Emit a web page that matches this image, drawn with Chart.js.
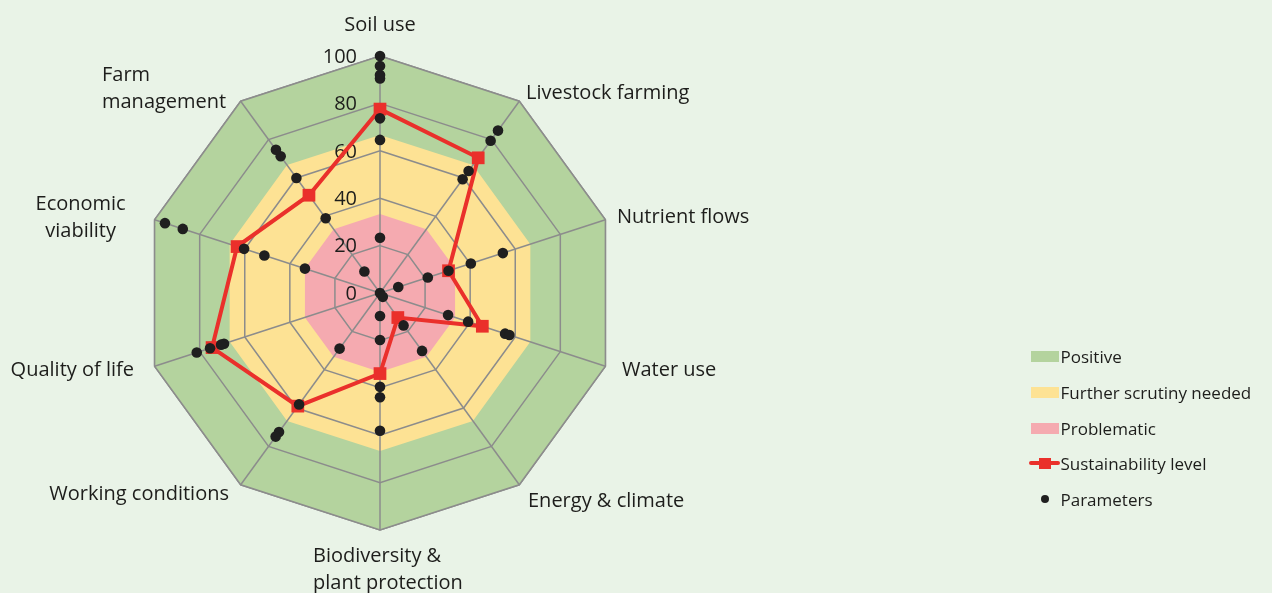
<!DOCTYPE html>
<html>
<head>
<meta charset="utf-8">
<script src="https://cdn.jsdelivr.net/npm/chart.js@4.4.1/dist/chart.umd.min.js"></script>
<style>
  html, body { margin: 0; padding: 0; background: #e9f3e7; }
  body { width: 1272px; height: 593px; position: relative; overflow: hidden; font-family: "Open Sans", sans-serif; }
  #c { position: absolute; left: 0; top: 0; }
  #legend { position: absolute; left: 1031px; top: 339.2px; }
  .row { height: 35.6px; display: flex; align-items: center; font-size: 17px; color: #1d1d1b; white-space: nowrap; }
  .ic { width: 28px; height: 11px; margin-right: 1.5px; position: relative; flex: none; }
  .ic .ln { position: absolute; left: -2px; top: 3px; width: 31px; height: 4px; border-radius: 2px; }
  .ic .sq { position: absolute; left: 8px; top: 0; width: 12px; height: 11px; }
  .ic .dt { position: absolute; left: 10px; top: 1.5px; width: 8px; height: 8px; border-radius: 50%; }
</style>
</head>
<body>
<canvas id="c" width="1272" height="593"></canvas>
<div id="legend"></div>
<script>
// ---------- data ----------
const categories = [
  'Soil use', 'Livestock farming', 'Nutrient flows', 'Water use', 'Energy & climate',
  ['Biodiversity &', 'plant protection'], 'Working conditions', 'Quality of life',
  ['Economic', 'viability'], ['Farm', 'management']
];
const tickValues = [0, 20, 40, 60, 80, 100];

// background bands (upper limit of each zone)
const positiveLevel    = [100, 100, 100, 100, 100, 100, 100, 100, 100, 100];
const scrutinyLevel    = [66.7, 66.7, 66.7, 66.7, 66.7, 66.7, 66.7, 66.7, 66.7, 66.7];
const problematicLevel = [33.3, 33.3, 33.3, 33.3, 33.3, 33.3, 33.3, 33.3, 33.3, 33.3];

// overall sustainability level per category
const sustainability = [77.6, 70.5, 30.4, 45.4, 12.8, 34, 59, 74.5, 63.4, 51];

// individual parameters per category
const paramsSoil         = [100, 95.8, 92, 90.5, 73.7, 64.6, 23.3, 0];
const paramsLivestock    = [84.7, 79.4, 63.6, 59.3];
const paramsNutrient     = [54.5, 40.3, 30.4, 21.2, 8.1];
const paramsWater        = [57.4, 55.5, 39.1, 30.2];
const paramsEnergy       = [30.2, 16.9, 2];
const paramsBiodiversity = [58.1, 44, 39.6, 19.8, 9.7];
const paramsWorking      = [74.9, 72.5, 58.1, 29];
const paramsQuality      = [81.3, 75.4, 70.5, 69.2];
const paramsEconomic     = [95.4, 87.5, 60.3, 51.3, 33.3];
const paramsFarm         = [74.7, 71.3, 60, 39, 11.2];

const legendNames = ['Positive', 'Further scrutiny needed', 'Problematic', 'Sustainability level', 'Parameters'];

// ---------- styles ----------
const COLORS = {
  positive: '#b4d39e', scrutiny: '#fde294', problematic: '#f5aab0',
  red: '#ea302b', dot: '#1f1f1f', grid: '#8c8c8c', text: '#1d1d1b'
};
const FONT = '"Open Sans", sans-serif';
// label placement relative to the outer vertex of each axis: [dx, dy(baseline), align]
const labelLayout = [
  [0, -25, 'center'], [6.7, -2.3, 'left'], [11.6, 3.2, 'left'], [16.6, 9.8, 'left'],
  [8.7, 22.3, 'left'], [-67, 31.7, 'left'], [-11.7, 15.3, 'right'], [-20.6, 9.8, 'right'],
  [-74, -9.8, 'center'], [-138.7, -20.3, 'left']
];
const LINE_H = 27;

// ---------- build datasets ----------
const paramLists = [paramsSoil, paramsLivestock, paramsNutrient, paramsWater, paramsEnergy,
  paramsBiodiversity, paramsWorking, paramsQuality, paramsEconomic, paramsFarm];
const maxParams = Math.max(...paramLists.map(p => p.length));
const paramDatasets = [];
for (let k = 0; k < maxParams; k++) {
  paramDatasets.push({
    label: 'Parameters',
    data: paramLists.map(p => (k < p.length ? p[k] : null)),
    showLine: false, fill: false, borderWidth: 0, borderColor: 'transparent',
    pointRadius: 5.3, pointHoverRadius: 5.3, pointBackgroundColor: COLORS.dot,
    pointBorderWidth: 0, order: 0, clip: false
  });
}
const band = (label, data, color, order) => ({
  label, data, fill: 'origin', backgroundColor: color, borderWidth: 0,
  borderColor: 'transparent', pointRadius: 0, pointHoverRadius: 0, order, clip: false
});
const datasets = [
  band('Positive', positiveLevel, COLORS.positive, 5),
  band('Further scrutiny needed', scrutinyLevel, COLORS.scrutiny, 4),
  band('Problematic', problematicLevel, COLORS.problematic, 3),
  {
    label: 'Sustainability level', data: sustainability, fill: false,
    borderColor: COLORS.red, borderWidth: 4, borderJoinStyle: 'miter',
    pointStyle: 'rect', pointRadius: 9, pointHoverRadius: 9,
    pointBackgroundColor: COLORS.red, pointBorderWidth: 0, order: 1, clip: false
  },
  ...paramDatasets
];
const LAST_BAND_INDEX = 2;

// ---------- overlay plugin: grid above bands, tick & category labels ----------
const overlay = {
  id: 'overlay',
  afterDatasetDraw(chart, args) {
    if (args.index !== LAST_BAND_INDEX) return;
    const s = chart.scales.r;
    const ctx = chart.ctx;
    s.drawGrid();
    ctx.save();
    ctx.font = '20px ' + FONT;
    ctx.fillStyle = COLORS.text;
    ctx.textAlign = 'right';
    ctx.textBaseline = 'middle';
    s.ticks.forEach(t => {
      const y = s.yCenter - s.getDistanceFromCenterForValue(t.value);
      ctx.fillText(String(t.value), s.xCenter - 23, y + 1);
    });
    ctx.restore();
  },
  afterDraw(chart) {
    const s = chart.scales.r;
    const ctx = chart.ctx;
    ctx.save();
    ctx.font = '20px ' + FONT;
    ctx.fillStyle = COLORS.text;
    ctx.textBaseline = 'alphabetic';
    categories.forEach((lab, i) => {
      const p = s.getPointPosition(i, s.drawingArea);
      const [dx, dy, align] = labelLayout[i];
      ctx.textAlign = align;
      const lines = Array.isArray(lab) ? lab : [lab];
      lines.forEach((ln, j) => ctx.fillText(ln, p.x + dx, p.y + dy + j * LINE_H));
    });
    ctx.restore();
  }
};

new Chart(document.getElementById('c'), {
  type: 'radar',
  data: { labels: categories, datasets },
  options: {
    responsive: false,
    animation: false,
    events: [],
    layout: { padding: { left: 143, top: 56, right: 655, bottom: 63 } },
    plugins: { legend: { display: false }, tooltip: { enabled: false } },
    scales: {
      r: {
        min: tickValues[0], max: tickValues[tickValues.length - 1],
        startAngle: 0,
        ticks: { stepSize: tickValues[1] - tickValues[0], display: false },
        grid: { color: COLORS.grid, lineWidth: 1.5 },
        angleLines: { color: COLORS.grid, lineWidth: 1.5 },
        pointLabels: { display: false }
      }
    }
  },
  plugins: [overlay]
});

// ---------- HTML legend ----------
const legendStyle = [
  { type: 'box', color: COLORS.positive },
  { type: 'box', color: COLORS.scrutiny },
  { type: 'box', color: COLORS.problematic },
  { type: 'line', color: COLORS.red },
  { type: 'dot', color: COLORS.dot }
];
const lg = document.getElementById('legend');
legendNames.forEach((name, i) => {
  const st = legendStyle[i];
  const row = document.createElement('div');
  row.className = 'row';
  const ic = document.createElement('div');
  ic.className = 'ic';
  if (st.type === 'box') ic.style.background = st.color;
  if (st.type === 'line') {
    ic.innerHTML = '<div class="ln" style="background:' + st.color + '"></div><div class="sq" style="background:' + st.color + '"></div>';
  }
  if (st.type === 'dot') ic.innerHTML = '<div class="dt" style="background:' + st.color + '"></div>';
  const tx = document.createElement('span');
  tx.textContent = name;
  row.appendChild(ic);
  row.appendChild(tx);
  lg.appendChild(row);
});
</script>
</body>
</html>
